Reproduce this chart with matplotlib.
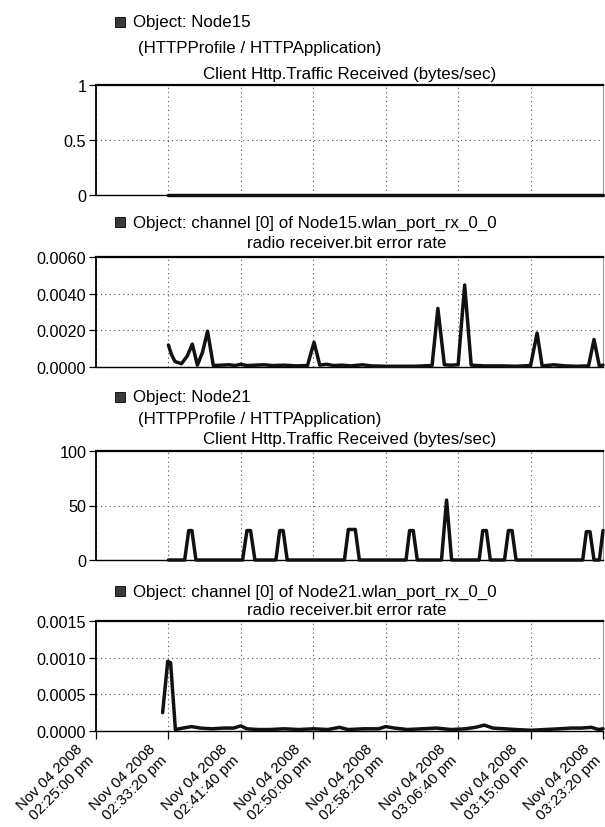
import matplotlib
matplotlib.use('Agg')
import matplotlib.pyplot as plt
import matplotlib.transforms as mtransforms
from matplotlib.patches import Rectangle

plt.rcParams['font.family'] = ['Liberation Sans', 'DejaVu Sans']

# ---------------- data ----------------
# time in seconds after Nov 04 2008 02:25:00 pm
x_tick_seconds = [0, 500, 1000, 1500, 2000, 2500, 3000, 3500]
x_tick_labels = [
    "Nov 04 2008\n02:25:00 pm",
    "Nov 04 2008\n02:33:20 pm",
    "Nov 04 2008\n02:41:40 pm",
    "Nov 04 2008\n02:50:00 pm",
    "Nov 04 2008\n02:58:20 pm",
    "Nov 04 2008\n03:06:40 pm",
    "Nov 04 2008\n03:15:00 pm",
    "Nov 04 2008\n03:23:20 pm",
]

node15_http_t = [500, 3500]
node15_http_v = [0.0, 0.0]

node15_ber_t = [500, 520, 545, 590, 630, 665, 700, 735, 770, 810, 860, 920, 960,
                1000, 1040, 1100, 1160, 1220, 1300, 1380, 1460, 1505, 1545, 1590,
                1640, 1700, 1760, 1840, 1900, 2000, 2100, 2200, 2320, 2360, 2405,
                2450, 2500, 2545, 2590, 2680, 2800, 2900, 3000, 3045, 3080, 3160,
                3240, 3320, 3400, 3438, 3475, 3500]
node15_ber_v = [0.00120, 0.00070, 0.00030, 0.00018, 0.00060, 0.00125, 0.00010,
                0.00080, 0.00195, 0.00008, 0.00010, 0.00012, 0.00008, 0.00015,
                0.00008, 0.00010, 0.00012, 0.00008, 0.00010, 0.00006, 0.00008,
                0.00135, 0.00010, 0.00015, 0.00008, 0.00010, 0.00006, 0.00012,
                0.00006, 0.00004, 0.00004, 0.00004, 0.00008, 0.00320, 0.00012,
                0.00010, 0.00012, 0.00447, 0.00010, 0.00006, 0.00006, 0.00004,
                0.00008, 0.00185, 0.00006, 0.00012, 0.00006, 0.00004, 0.00006,
                0.00150, 0.00004, 0.00010]

node21_http_t = [500, 612, 640, 662, 690, 1012, 1042, 1067, 1097, 1242, 1268, 1292,
                 1320, 1715, 1742, 1790, 1818, 2140, 2165, 2190, 2218, 2385, 2420,
                 2455, 2645, 2670, 2695, 2722, 2820, 2847, 2872, 2900, 3360, 3385,
                 3410, 3438, 3475, 3500]
node21_http_v = [0, 0, 27, 27, 0, 0, 27, 27, 0, 0, 27, 27,
                 0, 0, 28, 28, 0, 0, 27, 27, 0, 0, 55,
                 0, 0, 27, 27, 0, 0, 27, 27, 0, 0, 26,
                 26, 0, 0, 27]

node21_ber_t = [460, 495, 515, 548, 600, 660, 720, 800, 880, 950, 1000, 1040, 1120,
                1200, 1300, 1400, 1500, 1600, 1680, 1740, 1850, 1950, 2000, 2060,
                2150, 2250, 2350, 2450, 2550, 2620, 2680, 2740, 2820, 2900, 3000,
                3100, 3200, 3280, 3350, 3420, 3470, 3500]
node21_ber_v = [0.00025, 0.00095, 0.00093, 0.00002, 0.00004, 0.00006, 0.00004,
                0.00003, 0.00004, 0.00004, 0.00007, 0.00003, 0.00002, 0.00002,
                0.00003, 0.00002, 0.00003, 0.00002, 0.00005, 0.00002, 0.00003,
                0.00003, 0.00006, 0.00004, 0.00002, 0.00003, 0.00004, 0.00002,
                0.00003, 0.00005, 0.00008, 0.00004, 0.00003, 0.00002, 0.00001,
                0.00002, 0.00003, 0.00004, 0.00004, 0.00005, 0.00002, 0.00003]

panel1_yticks = [0, 0.5, 1]
panel1_ylabels = ["0", "0.5", "1"]
panel2_yticks = [0, 0.002, 0.004, 0.006]
panel2_ylabels = ["0.0000", "0.0020", "0.0040", "0.0060"]
panel3_yticks = [0, 50, 100]
panel3_ylabels = ["0", "50", "100"]
panel4_yticks = [0, 0.0005, 0.001, 0.0015]
panel4_ylabels = ["0.0000", "0.0005", "0.0010", "0.0015"]

# ---------------- figure ----------------
W, H = 605, 828
fig = plt.figure(figsize=(W / 100, H / 100), dpi=100)
fig.patch.set_facecolor('white')

FS_TITLE = 12.2
FS_Y = 11.7
FS_X = 11.0
LEFT, RIGHT = 96, 603


def add_panel(top, bottom):
    return fig.add_axes([LEFT / W, 1 - bottom / H, (RIGHT - LEFT) / W, (bottom - top) / H])


def style(ax, yticks, ylabels, show_x=False):
    ax.set_xlim(0, 3500)
    ax.set_ylim(yticks[0], yticks[-1])
    ax.set_xticks(x_tick_seconds)
    ax.set_yticks(yticks)
    ax.set_yticklabels(ylabels)
    ax.grid(True, color='#555555', linestyle=(0, (1, 3)), linewidth=0.8)
    ax.set_axisbelow(True)
    for s in ['left', 'top', 'bottom']:
        ax.spines[s].set_color('black')
    ax.spines['left'].set_linewidth(1.3)
    ax.spines['top'].set_linewidth(1.6)
    ax.spines['bottom'].set_linewidth(1.0)
    ax.spines['right'].set_color('#999999')
    ax.spines['right'].set_linewidth(0.8)
    ax.tick_params(axis='y', direction='out', length=5, width=0.9, labelsize=FS_Y, pad=2)
    if show_x:
        ax.set_xticklabels(x_tick_labels, rotation=45, ha='right', va='center',
                           rotation_mode='anchor', multialignment='right', fontsize=FS_X)
        ax.tick_params(axis='x', direction='out', length=6, width=0.9, pad=9)
        offset = mtransforms.ScaledTranslation(-9.5 / 100, 0, fig.dpi_scale_trans)
        for lab in ax.get_xticklabels():
            lab.set_transform(lab.get_transform() + offset)
    else:
        ax.tick_params(axis='x', length=0, labelbottom=False)


def draw(ax, t, v):
    ax.plot(t, v, color='#111111', linewidth=2.5, solid_joinstyle='round',
            solid_capstyle='round', clip_on=False, zorder=4)


def label_block(y_obj, obj_text, sub_text=None, y_sub=None, sub_x=138):
    fig.patches.append(Rectangle((115 / W, 1 - (y_obj + 5) / H), 10 / W, 10 / H,
                                 transform=fig.transFigure, facecolor='#3a3a3a',
                                 edgecolor='black', linewidth=0.6))
    fig.text(133 / W, 1 - y_obj / H, obj_text, fontsize=FS_TITLE, va='center', ha='left')
    if sub_text is not None:
        fig.text(sub_x / W, 1 - y_sub / H, sub_text, fontsize=FS_TITLE,
                 va='center', ha='left')


# panel 1
ax1 = add_panel(86, 196)
style(ax1, panel1_yticks, panel1_ylabels)
draw(ax1, node15_http_t, node15_http_v)
label_block(23, "Object: Node15", "(HTTPProfile / HTTPApplication)", 49)
fig.text(350 / W, 1 - 75 / H, "Client Http.Traffic Received (bytes/sec)",
         fontsize=FS_TITLE, va='center', ha='center')

# panel 2
ax2 = add_panel(258, 368)
style(ax2, panel2_yticks, panel2_ylabels)
draw(ax2, node15_ber_t, node15_ber_v)
label_block(223, "Object: channel [0] of Node15.wlan_port_rx_0_0",
            "radio receiver.bit error rate", 244, sub_x=247)

# panel 3
ax3 = add_panel(452, 561)
style(ax3, panel3_yticks, panel3_ylabels)
draw(ax3, node21_http_t, node21_http_v)
label_block(398, "Object: Node21", "(HTTPProfile / HTTPApplication)", 420)
fig.text(350 / W, 1 - 440 / H, "Client Http.Traffic Received (bytes/sec)",
         fontsize=FS_TITLE, va='center', ha='center')

# panel 4
ax4 = add_panel(622, 732)
style(ax4, panel4_yticks, panel4_ylabels, show_x=True)
draw(ax4, node21_ber_t, node21_ber_v)
label_block(592, "Object: channel [0] of Node21.wlan_port_rx_0_0",
            "radio receiver.bit error rate", 611, sub_x=247)

fig.savefig('out.png', dpi=100, facecolor='white')
